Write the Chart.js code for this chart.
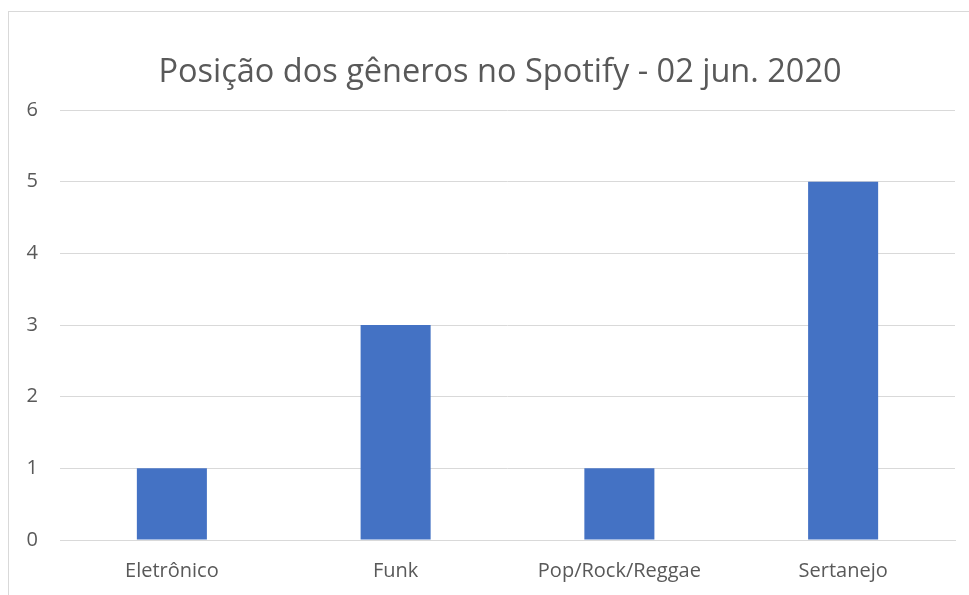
<!DOCTYPE html>
<html>
<head>
<meta charset="utf-8">
<script src="https://cdn.jsdelivr.net/npm/chart.js@4"></script>
<style>
html,body{margin:0;padding:0;background:#fff;width:969px;height:595px;overflow:hidden;}
#frame{position:absolute;left:8px;top:11px;width:1000px;height:700px;border:1.5px solid #d9d9d9;box-sizing:border-box;}
#wrap{position:absolute;left:0;top:0;width:969px;height:595px;}
</style>
</head>
<body>
<div id="frame"></div>
<div id="wrap"><canvas id="c" width="969" height="595"></canvas></div>
<script>
const categories = ["Eletrônico", "Funk", "Pop/Rock/Reggae", "Sertanejo"];
const values = [1, 3, 1, 5];
const yTicks = [0, 1, 2, 3, 4, 5, 6];
const titleText = "Posição dos gêneros no Spotify - 02 jun. 2020";

const FONT = "'Open Sans', 'Liberation Sans', sans-serif";
const TXT = "#595959";
const GRID = "#d9d9d9";

const titlePlugin = {
  id: 'excelTitle',
  afterDraw(chart) {
    const ctx = chart.ctx;
    ctx.save();
    ctx.fillStyle = TXT;
    ctx.font = "32.5px " + FONT;
    ctx.textAlign = 'center';
    ctx.textBaseline = 'alphabetic';
    ctx.fillText(titleText, 500, 82);
    ctx.restore();
  }
};

new Chart(document.getElementById('c'), {
  type: 'bar',
  data: {
    labels: categories,
    datasets: [{
      data: values,
      backgroundColor: '#4472C4',
      borderWidth: 0,
      categoryPercentage: 1.0,
      barPercentage: 0.313
    }]
  },
  options: {
    responsive: false,
    animation: false,
    devicePixelRatio: 1,
    layout: { padding: { left: 0, right: 14, top: 110, bottom: 0 } },
    plugins: {
      legend: { display: false },
      tooltip: { enabled: false },
      title: { display: false }
    },
    scales: {
      x: {
        grid: { display: false, drawTicks: false },
        border: { display: true, color: GRID, width: 1 },
        ticks: { color: TXT, font: { family: FONT, size: 20 }, padding: 19, maxRotation: 0 },
        afterFit: s => { s.height = 55; }
      },
      y: {
        min: 0, max: 6,
        afterBuildTicks: s => { s.ticks = yTicks.map(v => ({ value: v })); },
        grid: { color: GRID, lineWidth: 1, drawTicks: false },
        border: { display: false },
        ticks: { color: TXT, font: { family: FONT, size: 20 }, padding: 22, stepSize: 1 },
        afterFit: s => { s.width = 60; }
      }
    }
  },
  plugins: [titlePlugin]
});
</script>
</body>
</html>
